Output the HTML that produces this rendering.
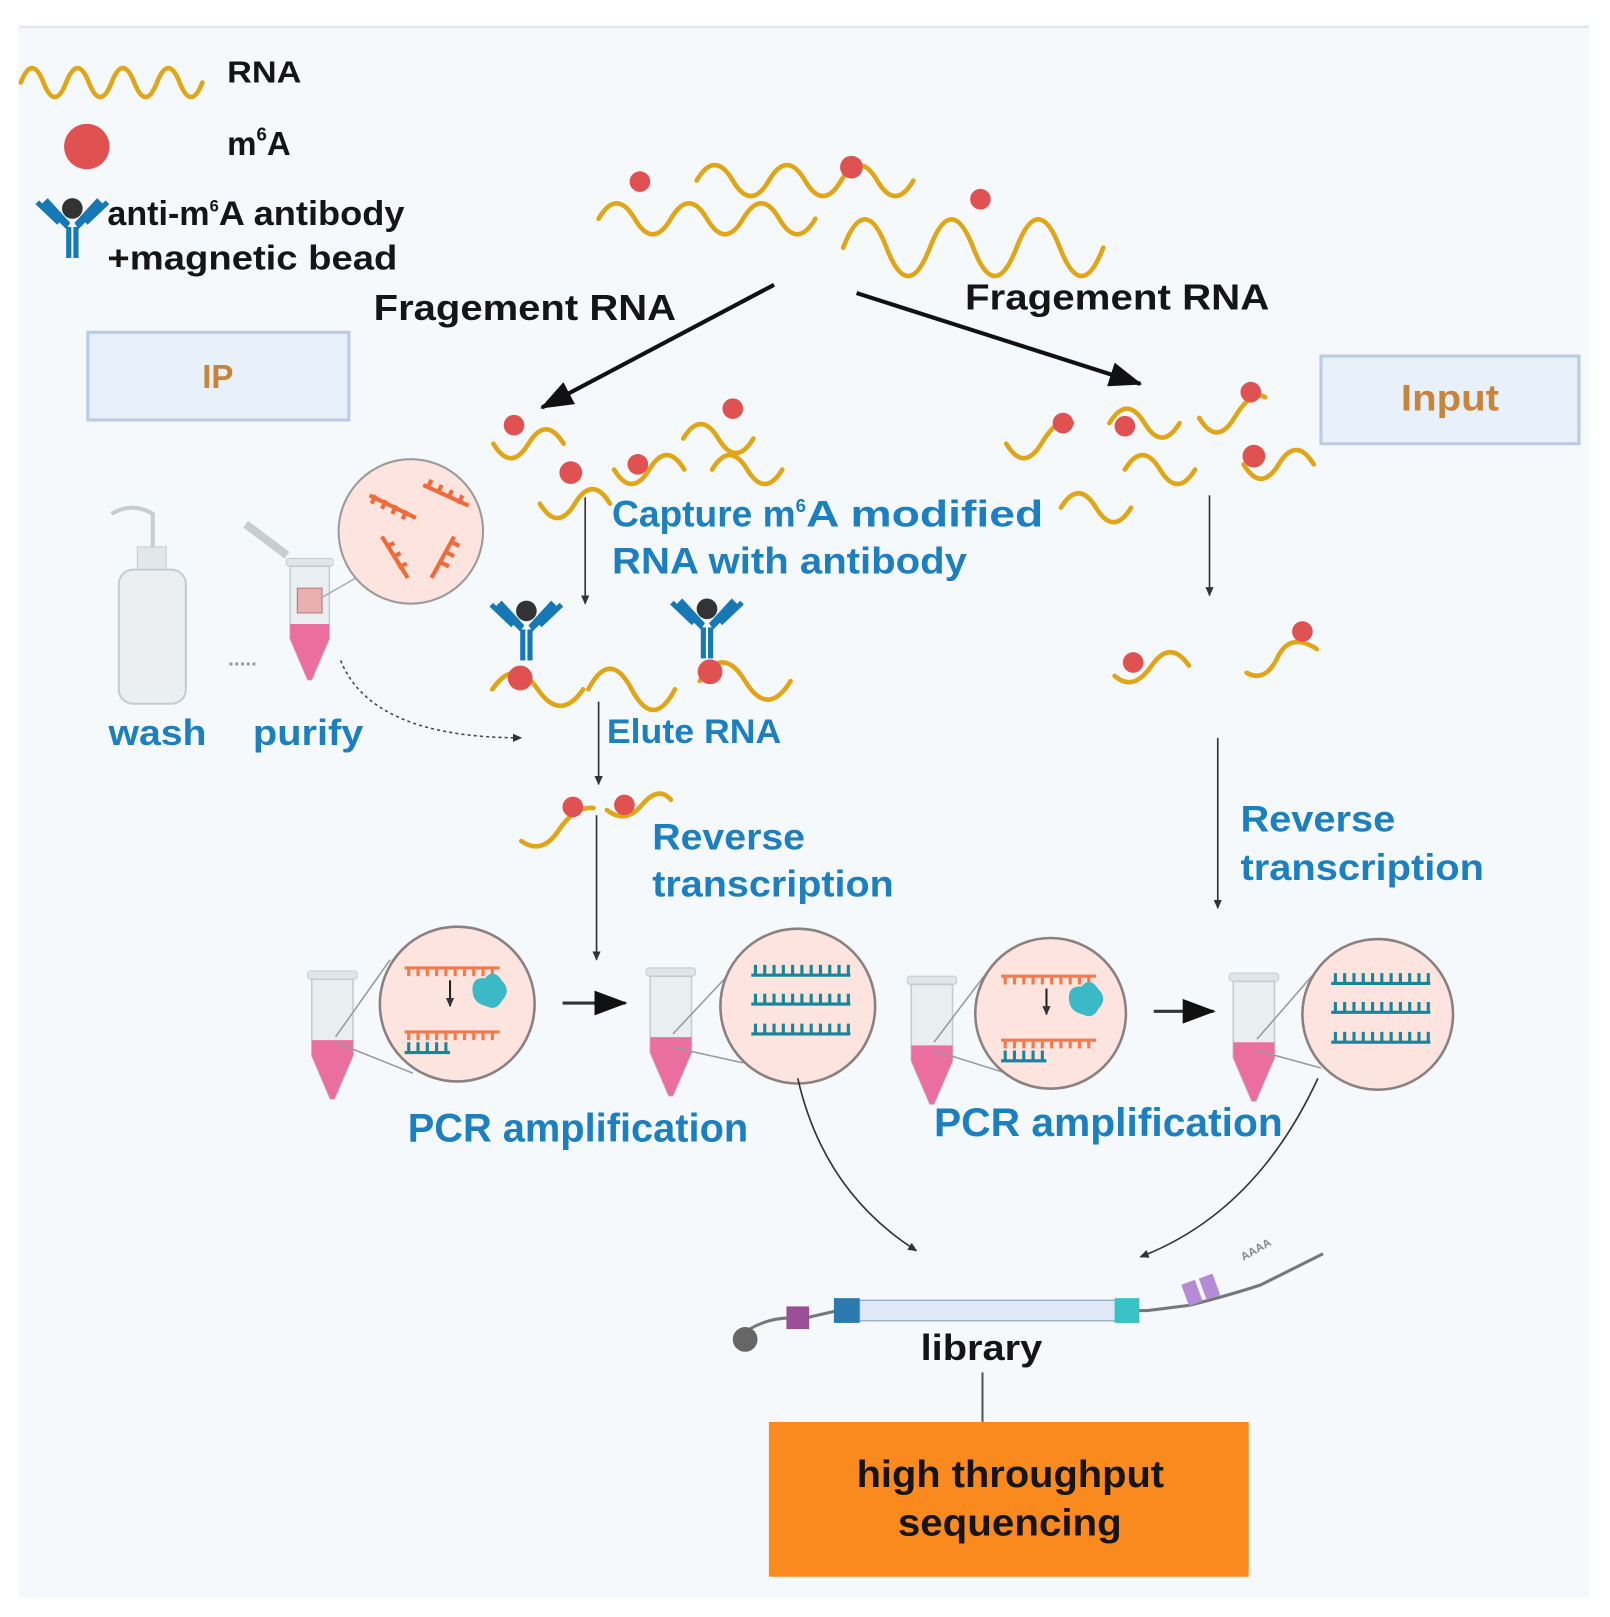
<!DOCTYPE html>
<html><head><meta charset="utf-8"><style>
html,body{margin:0;padding:0;background:#fff}
svg{display:block}
text{font-family:"Liberation Sans",Arial,sans-serif;font-weight:bold}
.b{fill:#1b7fc0}
.k{fill:#151515}
.w{fill:none;stroke:#e0a618;stroke-width:4.5;stroke-linecap:round}
.d{fill:#e05252}
.a{stroke:#333;stroke-width:1.6;fill:none}
</style></head><body>
<svg width="1610" height="1617" viewBox="0 0 1560 1567" xmlns="http://www.w3.org/2000/svg">
<defs>
<marker id="ah" markerWidth="10" markerHeight="10" refX="8" refY="5" orient="auto" markerUnits="userSpaceOnUse"><path d="M0,1 L9,5 L0,9 z" fill="#333"/></marker>
<marker id="AH" markerWidth="34" markerHeight="30" refX="30" refY="15" orient="auto" markerUnits="userSpaceOnUse"><path d="M0,3 L32,15 L0,27 z" fill="#111"/></marker>
<g id="ab">
<rect x="-6" y="10" width="5" height="30" fill="#1679b5"/><rect x="1" y="10" width="5" height="30" fill="#1679b5"/>
<path d="M-6,12 L-30,-12 L-24,-18 L-2,6 z" fill="#1679b5"/><path d="M6,12 L30,-12 L24,-18 L2,6 z" fill="#1679b5"/>
<path d="M-13,6 L-34,-14" stroke="#1679b5" stroke-width="5"/><path d="M13,6 L34,-14" stroke="#1679b5" stroke-width="5"/>
<circle cx="0" cy="-8" r="10" fill="#333"/>
</g>
<g id="tube">
<rect x="-24" y="-62" width="48" height="8" rx="3" fill="#dfe5e8" stroke="#c5ccd0"/>
<path d="M-20,-54 L20,-54 L20,20 L2,62 L-2,62 L-20,20 z" fill="#e9eff1" stroke="#c5ccd0" stroke-width="1.5"/>
<path d="M-20,5 L20,5 L20,20 L2,62 L-2,62 L-20,20 z" fill="#ea6fa0"/>
</g>
</defs>
<rect width="1560" height="1567" fill="#fff"/>
<rect x="18" y="26" width="1522" height="1522" fill="#f5f9fc"/>
<line x1="18" y1="26" x2="1540" y2="26" stroke="#e3e6ea" stroke-width="2"/>

<!-- legend -->
<path class="w" d="M20,80 q11,-28 22,0 t22,0 t22,0 t22,0 t22,0 t22,0 t22,0 t22,0"/>
<text x="220" y="80" font-size="30" class="k" textLength="72" lengthAdjust="spacingAndGlyphs">RNA</text>
<circle cx="84" cy="142" r="22" class="d"/>
<text x="220" y="150" font-size="32" class="k">m<tspan font-size="18" dy="-14">6</tspan><tspan dy="14">A</tspan></text>
<use href="#ab" x="70" y="210"/>
<text x="104" y="218" font-size="33" class="k">anti-m<tspan font-size="16" dy="-13">6</tspan><tspan dy="13" textLength="180" lengthAdjust="spacingAndGlyphs">A antibody</tspan></text>
<text x="104" y="261" font-size="33" class="k" textLength="281" lengthAdjust="spacingAndGlyphs">+magnetic bead</text>

<!-- top RNA -->
<path class="w" d="M580,212 q17.5,-30 35,0 t35,0 t35,0 t35,0 t35,0 t35,0"/>
<path class="w" d="M675,175 q17.5,-30 35,0 t35,0 t35,0 t35,0 t35,0 t35,0"/>
<path class="w" d="M817,240 q21,-55 42,0 t42,0 t42,0 t42,0 t42,0 t42,0"/>
<circle cx="620" cy="176" r="10" class="d"/><circle cx="825" cy="162" r="11" class="d"/><circle cx="950" cy="193" r="10" class="d"/>

<text x="362" y="310" font-size="35" class="k" textLength="293" lengthAdjust="spacingAndGlyphs">Fragement RNA</text>
<text x="935" y="300" font-size="35" class="k" textLength="295" lengthAdjust="spacingAndGlyphs">Fragement RNA</text>
<line x1="750" y1="276" x2="525" y2="395" stroke="#111" stroke-width="4" marker-end="url(#AH)"/>
<line x1="830" y1="284" x2="1105" y2="372" stroke="#111" stroke-width="4" marker-end="url(#AH)"/>

<rect x="85" y="322" width="253" height="85" fill="#e8f0fa" stroke="#b9cbe5" stroke-width="3"/>
<text x="211" y="376" font-size="32" text-anchor="middle" fill="#c8843a">IP</text>
<rect x="1280" y="345" width="250" height="85" fill="#e8f0fa" stroke="#b9cbe5" stroke-width="3"/>
<text x="1405" y="398" font-size="36" text-anchor="middle" fill="#c8843a" textLength="95" lengthAdjust="spacingAndGlyphs">Input</text>

<!-- left fragments -->
<path class="w" d="M478,430 q17,28 34,0 t34,0"/>
<circle cx="498" cy="412" r="10" class="d"/>
<path class="w" d="M595,455 q17,28 34,0 t34,0"/><circle cx="618" cy="450" r="10" class="d"/>
<path class="w" d="M662,425 q17,-28 34,0 t34,0"/><circle cx="710" cy="396" r="10" class="d"/>
<path class="w" d="M690,455 q17,-28 34,0 t34,0"/>
<path class="w" d="M523,488 q17,28 34,0 t34,0"/><circle cx="553" cy="458" r="11" class="d"/>
<!-- right fragments -->
<path class="w" d="M975,430 q17,28 34,0 t30,-20"/><circle cx="1030" cy="410" r="10" class="d"/>
<path class="w" d="M1075,410 q17,-28 34,0 t34,0"/><circle cx="1090" cy="413" r="10" class="d"/>
<path class="w" d="M1162,405 q17,28 34,0 t30,-20"/><circle cx="1212" cy="380" r="10" class="d"/>
<path class="w" d="M1090,455 q17,-28 34,0 t34,0"/>
<path class="w" d="M1205,450 q17,28 34,0 t34,0"/><circle cx="1215" cy="442" r="11" class="d"/>
<path class="w" d="M1028,492 q17,-28 34,0 t34,0"/>

<line class="a" x1="567" y1="482" x2="567" y2="585" marker-end="url(#ah)"/>
<line class="a" x1="1172" y1="480" x2="1172" y2="577" marker-end="url(#ah)"/>
<text x="593" y="510" font-size="36" class="b">Capture m<tspan font-size="18" dy="-14">6</tspan><tspan dy="14" textLength="230" lengthAdjust="spacingAndGlyphs">A modified</tspan></text>
<text x="593" y="556" font-size="36" class="b" textLength="344" lengthAdjust="spacingAndGlyphs">RNA with antibody</text>

<!-- antibodies with RNA -->
<use href="#ab" x="510" y="600"/><use href="#ab" x="685" y="598"/>
<path class="w" d="M477,668 q22,-32 44,0 t44,0"/>
<path class="w" d="M570,668 q21,-40 42,0 t42,0"/>
<path class="w" d="M678,660 q22,-36 44,0 t44,0"/>
<circle cx="504" cy="657" r="12" class="d"/><circle cx="688" cy="651" r="12" class="d"/>

<!-- right fragments lower -->
<path class="w" d="M1080,655 q18,16 36,-10 t36,0"/><circle cx="1098" cy="642" r="10" class="d"/>
<path class="w" d="M1208,652 q18,10 30,-15 t38,-8"/><circle cx="1262" cy="612" r="10" class="d"/>

<!-- wash bottle -->
<path d="M108,498 q20,-12 40,0 l0,35" stroke="#c8cdd0" stroke-width="4" fill="none"/>
<rect x="133" y="530" width="28" height="25" fill="#e3e7e9" stroke="#c5ccd0"/>
<rect x="115" y="552" width="65" height="130" rx="14" fill="#eceff1" stroke="#c5ccd0" stroke-width="2"/>
<!-- purify tube -->
<path d="M238,508 l40,30" stroke="#c8cdd0" stroke-width="8"/>
<g transform="translate(300,600) scale(0.95)"><use href="#tube"/></g>
<rect x="288" y="570" width="24" height="24" fill="#eab0b0" stroke="#b77"/>
<line x1="310" y1="580" x2="345" y2="560" stroke="#aaa" stroke-width="1.5"/>
<circle cx="398" cy="515" r="70" fill="#fde4df" stroke="#9a9a9a" stroke-width="2"/>
<g stroke="#f06a3a" stroke-width="4" fill="none">
<path d="M358,480 l45,22 M364,480 l-4,8 M374,485 l-4,8 M384,490 l-4,8 M394,495 l-4,8"/>
<path d="M410,470 l44,20 M418,465 l-4,8 M428,470 l-4,8 M438,475 l-4,8 M448,480 l-4,8"/>
<path d="M370,520 l25,40 M380,540 l8,-4 M386,550 l8,-4 M374,530 l8,-4"/>
<path d="M440,520 l-22,40 M432,535 l8,4 M427,545 l8,4 M437,525 l8,4"/>
</g>
<text x="221" y="645" font-size="20" fill="#999">.....</text>
<text x="105" y="722" font-size="35" class="b" textLength="95" lengthAdjust="spacingAndGlyphs">wash</text>
<text x="245" y="722" font-size="35" class="b" textLength="107" lengthAdjust="spacingAndGlyphs">purify</text>
<path d="M330,640 q30,75 175,75" stroke="#444" stroke-width="1.5" stroke-dasharray="3,3" fill="none" marker-end="url(#ah)"/>

<line class="a" x1="580" y1="680" x2="580" y2="760" marker-end="url(#ah)"/>
<text x="588" y="720" font-size="33" class="b" textLength="169" lengthAdjust="spacingAndGlyphs">Elute RNA</text>
<path class="w" d="M505,815 q20,14 36,-10 t34,-22"/>
<circle cx="555" cy="782" r="10" class="d"/>
<path class="w" d="M588,785 q18,14 34,-5 t28,-5"/><circle cx="605" cy="780" r="10" class="d"/>
<line class="a" x1="578" y1="790" x2="578" y2="930" marker-end="url(#ah)"/>
<text x="632" y="823" font-size="36" class="b" textLength="148" lengthAdjust="spacingAndGlyphs">Reverse</text>
<text x="632" y="869" font-size="36" class="b" textLength="234" lengthAdjust="spacingAndGlyphs">transcription</text>
<line class="a" x1="1180" y1="715" x2="1180" y2="880" marker-end="url(#ah)"/>
<text x="1202" y="806" font-size="36" class="b" textLength="150" lengthAdjust="spacingAndGlyphs">Reverse</text>
<text x="1202" y="853" font-size="36" class="b" textLength="236" lengthAdjust="spacingAndGlyphs">transcription</text>

<!-- PCR row left -->
<use href="#tube" x="322" y="1003"/>
<line x1="325" y1="1005" x2="378" y2="930" stroke="#999" stroke-width="1.5"/><line x1="325" y1="1010" x2="400" y2="1040" stroke="#999" stroke-width="1.5"/>
<circle cx="443" cy="973" r="75" fill="#fde4df" stroke="#8a8080" stroke-width="2.5"/>
<g id="rt1">
<path d="M392,938 h92 M396,938 v8 M405,938 v8 M414,938 v8 M423,938 v8 M432,938 v8 M441,938 v8 M450,938 v8 M459,938 v8 M468,938 v8 M477,938 v8" stroke="#f37a4a" stroke-width="3"/>
<path d="M392,1000 h92 M396,1000 v8 M405,1000 v8 M414,1000 v8 M423,1000 v8 M432,1000 v8 M441,1000 v8 M450,1000 v8 M459,1000 v8 M468,1000 v8 M477,1000 v8" stroke="#f37a4a" stroke-width="3"/>
<path d="M392,1020 h44 M396,1010 v10 M405,1010 v10 M414,1010 v10 M423,1010 v10 M432,1010 v10" stroke="#17859a" stroke-width="3"/>
<path d="M436,950 v25" stroke="#222" stroke-width="2" marker-end="url(#ah)"/>
<path d="M458,962 q-2,-15 12,-14 q8,-10 16,2 q10,10 0,20 q-5,10 -15,5 q-12,-3 -13,-13 z" fill="#3bb9c6"/>
</g>
<line x1="545" y1="972" x2="606" y2="972" stroke="#333" stroke-width="3" marker-end="url(#AH)"/>
<use href="#tube" x="650" y="1000"/>
<line x1="652" y1="1002" x2="710" y2="940" stroke="#999" stroke-width="1.5"/><line x1="652" y1="1015" x2="720" y2="1030" stroke="#999" stroke-width="1.5"/>
<circle cx="773" cy="975" r="75" fill="#fde4df" stroke="#8a8080" stroke-width="2.5"/>
<g stroke="#17859a" stroke-width="3">
<path d="M728,945 h96 M728,973 h96 M728,1002 h96"/>
<path d="M732,935v10M741,935v10M750,935v10M759,935v10M768,935v10M777,935v10M786,935v10M795,935v10M804,935v10M813,935v10M822,935v10"/>
<path d="M732,963v10M741,963v10M750,963v10M759,963v10M768,963v10M777,963v10M786,963v10M795,963v10M804,963v10M813,963v10M822,963v10"/>
<path d="M732,992v10M741,992v10M750,992v10M759,992v10M768,992v10M777,992v10M786,992v10M795,992v10M804,992v10M813,992v10M822,992v10"/>
</g>
<text x="395" y="1106" font-size="39" class="b" textLength="330" lengthAdjust="spacingAndGlyphs">PCR amplification</text>

<!-- PCR row right -->
<use href="#tube" x="903" y="1008"/>
<line x1="905" y1="1010" x2="958" y2="940" stroke="#999" stroke-width="1.5"/><line x1="905" y1="1018" x2="975" y2="1040" stroke="#999" stroke-width="1.5"/>
<circle cx="1018" cy="982" r="73" fill="#fde4df" stroke="#8a8080" stroke-width="2.5"/>
<use href="#rt1" x="578" y="8"/>
<line x1="1118" y1="980" x2="1176" y2="980" stroke="#333" stroke-width="3" marker-end="url(#AH)"/>
<use href="#tube" x="1215" y="1005"/>
<line x1="1218" y1="1007" x2="1272" y2="945" stroke="#999" stroke-width="1.5"/><line x1="1218" y1="1018" x2="1280" y2="1035" stroke="#999" stroke-width="1.5"/>
<circle cx="1335" cy="983" r="73" fill="#fde4df" stroke="#8a8080" stroke-width="2.5"/>
<g stroke="#17859a" stroke-width="3" transform="translate(562,8)">
<path d="M728,945 h96 M728,973 h96 M728,1002 h96"/>
<path d="M732,935v10M741,935v10M750,935v10M759,935v10M768,935v10M777,935v10M786,935v10M795,935v10M804,935v10M813,935v10M822,935v10"/>
<path d="M732,963v10M741,963v10M750,963v10M759,963v10M768,963v10M777,963v10M786,963v10M795,963v10M804,963v10M813,963v10M822,963v10"/>
<path d="M732,992v10M741,992v10M750,992v10M759,992v10M768,992v10M777,992v10M786,992v10M795,992v10M804,992v10M813,992v10M822,992v10"/>
</g>
<text x="905" y="1101" font-size="39" class="b" textLength="338" lengthAdjust="spacingAndGlyphs">PCR amplification</text>

<!-- curves to library -->
<path d="M773,1045 q25,110 115,167" class="a" marker-end="url(#ah)"/>
<path d="M1277,1045 q-60,130 -172,173" class="a" marker-end="url(#ah)"/>

<!-- library strand -->
<path d="M712,1298 q30,-25 65,-20 l35,-8 h300 l40,-5 q40,-10 70,-20 l60,-30" stroke="#777" stroke-width="3" fill="none"/>
<circle cx="722" cy="1298" r="12" fill="#666"/>
<rect x="762" y="1266" width="22" height="22" fill="#9b4f97"/>
<rect x="808" y="1258" width="25" height="24" fill="#2a7ab0"/>
<rect x="833" y="1260" width="250" height="20" fill="#dfe9f6" stroke="#7a9ac0"/>
<rect x="1080" y="1258" width="24" height="24" fill="#39c1c6"/>
<rect x="1148" y="1242" width="14" height="22" fill="#b58ad6" transform="rotate(-20 1155 1253)"/>
<rect x="1165" y="1236" width="14" height="22" fill="#b58ad6" transform="rotate(-20 1172 1247)"/>
<text x="1205" y="1222" font-size="11" fill="#888" transform="rotate(-30 1205 1222)">AAAA</text>
<text x="892" y="1318" font-size="35" class="k" textLength="118" lengthAdjust="spacingAndGlyphs">library</text>
<line x1="952" y1="1330" x2="952" y2="1378" stroke="#555" stroke-width="2"/>

<rect x="745" y="1378" width="465" height="150" fill="#fb8a1e"/>
<text x="830" y="1441" font-size="37" class="k" textLength="298" lengthAdjust="spacingAndGlyphs">high throughput</text>
<text x="870" y="1488" font-size="37" class="k" textLength="217" lengthAdjust="spacingAndGlyphs">sequencing</text>
</svg>
</body></html>
